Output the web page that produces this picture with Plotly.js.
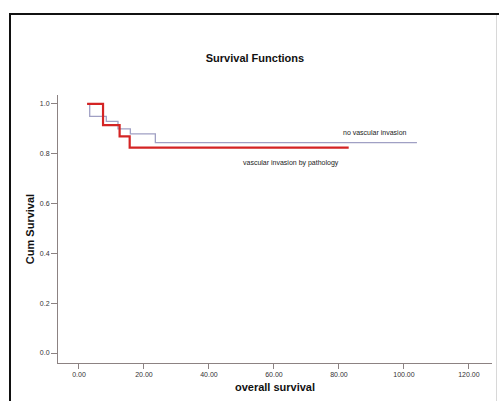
<!DOCTYPE html>
<html>
<head>
<meta charset="utf-8">
<script src="https://cdn.plot.ly/plotly-3.0.1.min.js"></script>
<style>
  html, body { margin: 0; padding: 0; background: #ffffff; }
  #wrap { position: relative; width: 499px; height: 401px; overflow: hidden; }
  #chart { position: absolute; left: 0; top: 0; width: 499px; height: 401px; }
  #frame { position: absolute; left: 9px; top: 13px; width: 600px; height: 600px;
           border-left: 2px solid #111; border-top: 2px solid #111; pointer-events: none; }
  #rframe { position: absolute; left: 496px; top: 15px; width: 1px; height: 400px;
            background: #d8d8d8; pointer-events: none; }
</style>
</head>
<body>
<div id="wrap">
  <div id="chart"></div>
  <div id="frame"></div>
  <div id="rframe"></div>
</div>
<script>
// Kaplan-Meier step curves
var noInvTime = [2.5, 3.3, 3.3, 8.4, 8.4, 12.0, 12.0, 15.8, 15.8, 23.5, 23.5, 104.0];
var noInvSurv = [1.0, 1.0, 0.95, 0.95, 0.93, 0.93, 0.90, 0.90, 0.88, 0.88, 0.845, 0.845];

var vascTime = [2.5, 7.4, 7.4, 12.5, 12.5, 15.6, 15.6, 83.0];
var vascSurv = [1.0, 1.0, 0.915, 0.915, 0.87, 0.87, 0.825, 0.825];

var xTicks = [0, 20, 40, 60, 80, 100, 120];
var xTickText = ["0.00", "20.00", "40.00", "60.00", "80.00", "100.00", "120.00"];
var yTicks = [0.0, 0.2, 0.4, 0.6, 0.8, 1.0];
var yTickText = ["0.0", "0.2", "0.4", "0.6", "0.8", "1.0"];

var seriesNames = ["no vascular invasion", "vascular invasion by pathology"];

var traces = [
  { x: noInvTime, y: noInvSurv, mode: "lines", name: seriesNames[0],
    line: { color: "#a0a0c4", width: 1.3, shape: "linear" }, hoverinfo: "x+y" },
  { x: vascTime, y: vascSurv, mode: "lines", name: seriesNames[1],
    line: { color: "#d42424", width: 2.2, shape: "linear" }, hoverinfo: "x+y" }
];

var axisColor = "#8c8282";
var tickFont = { family: "Liberation Sans, Arial, sans-serif", size: 7, color: "#333" };

var layout = {
  width: 499, height: 401,
  margin: { l: 58, r: 7, t: 95, b: 38 },
  paper_bgcolor: "#ffffff", plot_bgcolor: "#ffffff",
  showlegend: false,
  title: { text: "<b>Survival Functions</b>", xref: "container", yref: "container",
           x: 0.511, y: 1 - 58 / 401, xanchor: "center", yanchor: "middle",
           font: { family: "Liberation Sans, Arial, sans-serif", size: 11, color: "#111" } },
  xaxis: {
    range: [-6.46, 127.1], showgrid: false, zeroline: false,
    showline: true, linecolor: axisColor, linewidth: 1,
    ticks: "outside", ticklen: 5, tickcolor: axisColor,
    tickvals: xTicks, ticktext: xTickText, tickfont: tickFont,
    title: { text: "<b>overall survival</b>", standoff: 5,
             font: { family: "Liberation Sans, Arial, sans-serif", size: 11, color: "#111" } }
  },
  yaxis: {
    range: [-0.040, 1.036], showgrid: false, zeroline: false,
    showline: true, linecolor: axisColor, linewidth: 1,
    ticks: "outside", ticklen: 6, tickcolor: axisColor,
    tickvals: yTicks, ticktext: yTickText, tickfont: tickFont,
    title: { text: "<b>Cum Survival</b>", standoff: 3,
             font: { family: "Liberation Sans, Arial, sans-serif", size: 11, color: "#111" } }
  },
  annotations: [
    { x: 91, y: 0.884, xref: "x", yref: "y", text: seriesNames[0], showarrow: false,
      font: { family: "Liberation Sans, Arial, sans-serif", size: 7, color: "#222" } },
    { x: 65.2, y: 0.763, xref: "x", yref: "y", text: seriesNames[1], showarrow: false,
      font: { family: "Liberation Sans, Arial, sans-serif", size: 7, color: "#222" } }
  ]
};

Plotly.newPlot("chart", traces, layout, { displayModeBar: false, staticPlot: true });
</script>
</body>
</html>
